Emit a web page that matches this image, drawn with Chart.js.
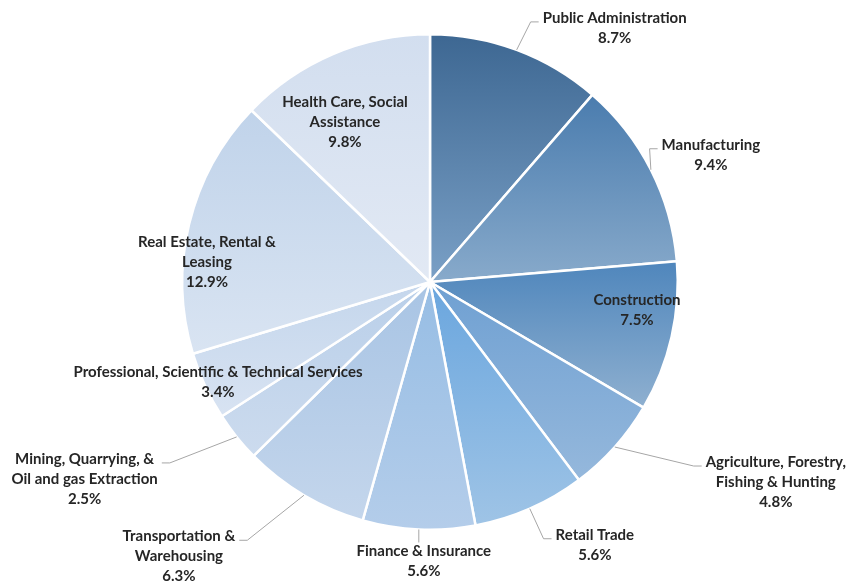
<!DOCTYPE html>
<html>
<head>
<meta charset="utf-8">
<title>Employment by industry</title>
<script src="https://cdn.jsdelivr.net/npm/chart.js@4/dist/chart.umd.min.js"></script>
<style>
  body { margin: 0; background: #fff; }
  #chart { display: block; }
</style>
</head>
<body>
<canvas id="chart" width="863" height="582"></canvas>
<script>
// data, clockwise from 12 o'clock
const industries = [
  ['Public Administration'],
  ['Manufacturing'],
  ['Construction'],
  ['Agriculture, Forestry,', 'Fishing & Hunting'],
  ['Retail Trade'],
  ['Finance & Insurance'],
  ['Transportation &', 'Warehousing'],
  ['Mining, Quarrying, &', 'Oil and gas Extraction'],
  ['Professional, Scientific & Technical Services'],
  ['Real Estate, Rental &', 'Leasing'],
  ['Health Care, Social', 'Assistance'],
];
const shares = [8.7, 9.4, 7.5, 4.8, 5.6, 5.6, 6.3, 2.5, 3.4, 12.9, 9.8];

// gradient colours per slice (top -> bottom)
const topColors = ['#3d6792', '#4a7cae', '#4f86bc', '#6fa0d2', '#6aa6de', '#96bde4',
                   '#a8c4e4', '#b9cfe9', '#c4d6ec', '#c0d3ea', '#d2deef'];
const bottomColors = ['#7aa0c6', '#88aacb', '#8fb0d0', '#95b8dc', '#9fc4e6', '#b4cdea',
                      '#c4d6ec', '#ccdbee', '#d8e3f2', '#d9e4f2', '#e2e9f4'];

// label placement: 'r'/'l' = outside with elbow leader, 'v' = outside with vertical leader, 'in' = inside
const labelKind = ['r', 'r', 'in', 'r', 'r', 'v', 'l', 'l', 'in', 'in', 'in'];
// first-line centre: offset from slice edge point (outside) or from pie centre (inside)
const labelOffset = [[98, -32], [60, -25], [207, 18], [161, 15], [65, 26], [5, 22],
                     [-125, 41], [-152, 22], [-212, 90], [-223, -40], [-85, -180]];

const FONT = 'bold 15px Lato, "Liberation Sans", sans-serif';
const LINE_H = 20;

const total = shares.reduce((a, b) => a + b, 0);

function sliceGradient(ctx) {
  const chart = ctx.chart;
  const area = chart.chartArea;
  const i = ctx.dataIndex;
  if (!area) return topColors[i];
  const cx = (area.left + area.right) / 2;
  const cy = (area.top + area.bottom) / 2;
  const r = Math.min(area.width, area.height) / 2;
  let before = 0;
  for (let k = 0; k < i; k++) before += shares[k];
  const a0 = before / total * Math.PI * 2;
  const a1 = (before + shares[i]) / total * Math.PI * 2;
  // angle measured clockwise from top
  const ys = [cy, cy - r * Math.cos(a0), cy - r * Math.cos(a1)];
  if (a0 <= 0 && a1 >= 0) ys.push(cy - r);
  if (a0 <= Math.PI && a1 >= Math.PI) ys.push(cy + r);
  const y0 = Math.min(...ys), y1 = Math.max(...ys);
  const g = chart.ctx.createLinearGradient(0, y0, 0, y1 + 0.01);
  g.addColorStop(0, topColors[i]);
  g.addColorStop(1, bottomColors[i]);
  return g;
}

const labelPlugin = {
  id: 'sliceLabels',
  afterDatasetsDraw(chart) {
    const ctx = chart.ctx;
    const meta = chart.getDatasetMeta(0);
    ctx.save();
    ctx.font = FONT;
    ctx.textAlign = 'center';
    ctx.textBaseline = 'middle';
    meta.data.forEach((arc, i) => {
      const lines = industries[i].concat([shares[i].toFixed(1) + '%']);
      const mid = (arc.startAngle + arc.endAngle) / 2;
      const ax = arc.x + arc.outerRadius * Math.cos(mid);
      const ay = arc.y + arc.outerRadius * Math.sin(mid);
      const kind = labelKind[i];
      const off = labelOffset[i];
      let lx, ly;
      if (kind === 'in') {
        lx = arc.x + off[0];
        ly = arc.y + off[1];
      } else {
        lx = ax + off[0];
        ly = ay + off[1];
        const w = Math.max(...lines.map(t => ctx.measureText(t).width));
        ctx.strokeStyle = '#a6a6a6';
        ctx.lineWidth = 1;
        ctx.beginPath();
        ctx.moveTo(ax, ay);
        if (kind === 'v') {
          ctx.lineTo(ax, ly - 9);
        } else {
          const lineY = ly + 4;
          const endX = kind === 'r' ? lx - w / 2 - 4 : lx + w / 2 + 4;
          const elbowX = kind === 'r' ? endX - 8 : endX + 8;
          ctx.lineTo(elbowX, lineY);
          ctx.lineTo(endX, lineY);
        }
        ctx.stroke();
      }
      ctx.fillStyle = '#262626';
      lines.forEach((t, k) => ctx.fillText(t, lx, ly + k * LINE_H));
    });
    ctx.restore();
  }
};

new Chart(document.getElementById('chart'), {
  type: 'pie',
  data: {
    labels: industries.map(l => l.join(' ')),
    datasets: [{
      data: shares,
      backgroundColor: sliceGradient,
      borderColor: '#ffffff',
      borderWidth: 2.5,
    }],
  },
  options: {
    responsive: false,
    animation: false,
    layout: { padding: { top: 33, bottom: 51, left: 0, right: 3 } },
    plugins: {
      legend: { display: false },
      tooltip: { enabled: false },
    },
  },
  plugins: [labelPlugin],
});
</script>
</body>
</html>
